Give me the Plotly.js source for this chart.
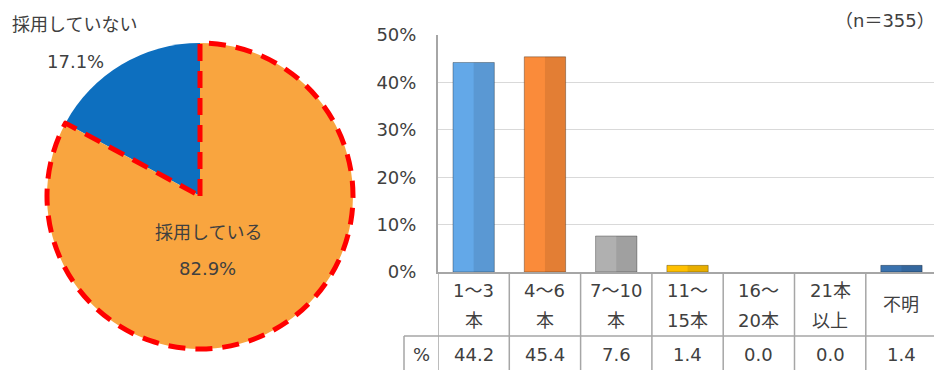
<!DOCTYPE html>
<html>
<head>
<meta charset="utf-8">
<script src="https://cdn.plot.ly/plotly-3.0.1.min.js"></script>
<style>
html, body { margin: 0; padding: 0; background: #ffffff; }
#chart { width: 934px; height: 370px; }
</style>
</head>
<body>
<div id="chart"></div>
<script>
// ---- data ----
const catLine1 = ['1～3', '4～6', '7～10', '11～', '16～', '21本', '不明'];
const catLine2 = ['本', '本', '本', '15本', '20本', '以上', ''];
const categories = catLine1.map((a, i) => a + catLine2[i]);
const values = [44.2, 45.4, 7.6, 1.4, 0.0, 0.0, 1.4];
const yTicks = [0, 10, 20, 30, 40, 50];
const rowHeader = '%';
const sampleNote = '（n＝355）';
const pieLabels = ['採用している', '採用していない'];
const pieValues = [82.9, 17.1];

// ---- styles ----
const barColors = ['#63a8e8', '#fa8b3a', '#b0b0b0', '#ffc000', '#7f7f7f', '#7f7f7f', '#3a72ae'];
const pieColors = ['#f9a53f', '#0d6fbf'];
const FONT = '"DejaVu Sans", "Noto Sans CJK JP", sans-serif';
const FS = 18;
const TXT = '#404040';
const LINE = '#a6a6a6';

const W = 934, H = 370;
const px = x => x / W;
const py = y => (H - y) / H;

const yTop = 35, yZero = 272, xLeft = 438, colW = 71.3;
const xMax = -0.5 + (W - xLeft) / colW;

const traces = [
  {
    type: 'pie', labels: pieLabels, values: pieValues,
    domain: { x: [px(47), px(353)], y: [py(349), py(43)] },
    sort: false, direction: 'clockwise', rotation: 0,
    textinfo: 'none', hoverinfo: 'none', showlegend: false,
    marker: { colors: pieColors, line: { color: ['#ff0000', 'rgba(0,0,0,0)'], width: [5, 0] } }
  },
  {
    type: 'bar', x: categories, y: values, width: 0.58, offset: -0.29,
    marker: { color: barColors, line: { color: 'rgba(0,0,0,0.3)', width: values.map(v => v > 0 ? 1 : 0) } },
    hoverinfo: 'skip', showlegend: false
  },
  {
    type: 'bar', x: categories, y: values, width: 0.29, offset: 0,
    marker: { color: 'rgba(0,0,0,0.09)', line: { width: 0 } },
    hoverinfo: 'skip', showlegend: false
  }
];

const annotations = [];
const shapes = [];
function note(xref, x, y, text, xanchor) {
  annotations.push({ xref: xref, yref: 'paper', x: x, y: y, text: text, showarrow: false,
    xanchor: xanchor || 'center', yanchor: 'middle',
    font: { family: FONT, size: FS, color: TXT } });
}
// pie labels
note('paper', px(74), py(25), pieLabels[1]);
note('paper', px(75), py(62), pieValues[1].toFixed(1) + '%');
note('paper', px(208), py(232), pieLabels[0]);
note('paper', px(207), py(268), pieValues[0].toFixed(1) + '%');
// n note
note('paper', px(937), py(21), sampleNote, 'right');
// table
categories.forEach((c, i) => {
  if (catLine2[i]) {
    note('x', c, py(290), catLine1[i]);
    note('x', c, py(320), catLine2[i]);
  } else {
    note('x', c, py(304), catLine1[i]);
  }
  note('x', c, py(354), values[i].toFixed(1));
});
note('paper', px(421), py(354), rowHeader);

for (let k = 0; k < categories.length; k++) {
  shapes.push({ type: 'line', xref: 'x', yref: 'paper', x0: k - 0.5, x1: k - 0.5, y0: 0, y1: py(yZero), line: { color: LINE, width: 1.5 } });
}
shapes.push({ type: 'line', xref: 'paper', yref: 'paper', x0: px(404), x1: 1, y0: py(336), y1: py(336), line: { color: LINE, width: 1.5 } });
shapes.push({ type: 'line', xref: 'paper', yref: 'paper', x0: px(404), x1: px(404), y0: 0, y1: py(336), line: { color: LINE, width: 1.5 } });

const layout = {
  width: W, height: H,
  margin: { l: 0, r: 0, t: 0, b: 0, pad: 0 },
  paper_bgcolor: '#ffffff', plot_bgcolor: '#ffffff',
  font: { family: FONT, color: TXT, size: FS },
  barmode: 'overlay',
  showlegend: false,
  xaxis: {
    domain: [px(xLeft), 1], type: 'category', categoryarray: categories,
    range: [-0.5, xMax], showticklabels: false, ticks: '',
    showline: true, linecolor: LINE, linewidth: 2, showgrid: false, zeroline: false, fixedrange: true
  },
  yaxis: {
    domain: [py(yZero), py(yTop)], range: [0, 50],
    tickvals: yTicks, ticktext: yTicks.map(v => v + '%'),
    tickfont: { family: FONT, size: FS, color: TXT },
    showgrid: true, gridcolor: '#d9d9d9', gridwidth: 1,
    showline: true, linecolor: LINE, linewidth: 2, zeroline: false,
    ticks: '', ticklabelstandoff: 16, fixedrange: true
  },
  annotations: annotations,
  shapes: shapes
};

Plotly.newPlot('chart', traces, layout, { staticPlot: true, displayModeBar: false }).then(gd => {
  const slices = gd.querySelectorAll('.pielayer .slice');
  if (slices.length) {
    const first = slices[0];
    const surf = first.querySelector('path.surface');
    if (surf) {
      surf.style.strokeDasharray = '17,10';
      surf.style.strokeLinecap = 'butt';
    }
    first.parentNode.appendChild(first); // draw the dashed slice on top
  }
});
</script>
</body>
</html>
